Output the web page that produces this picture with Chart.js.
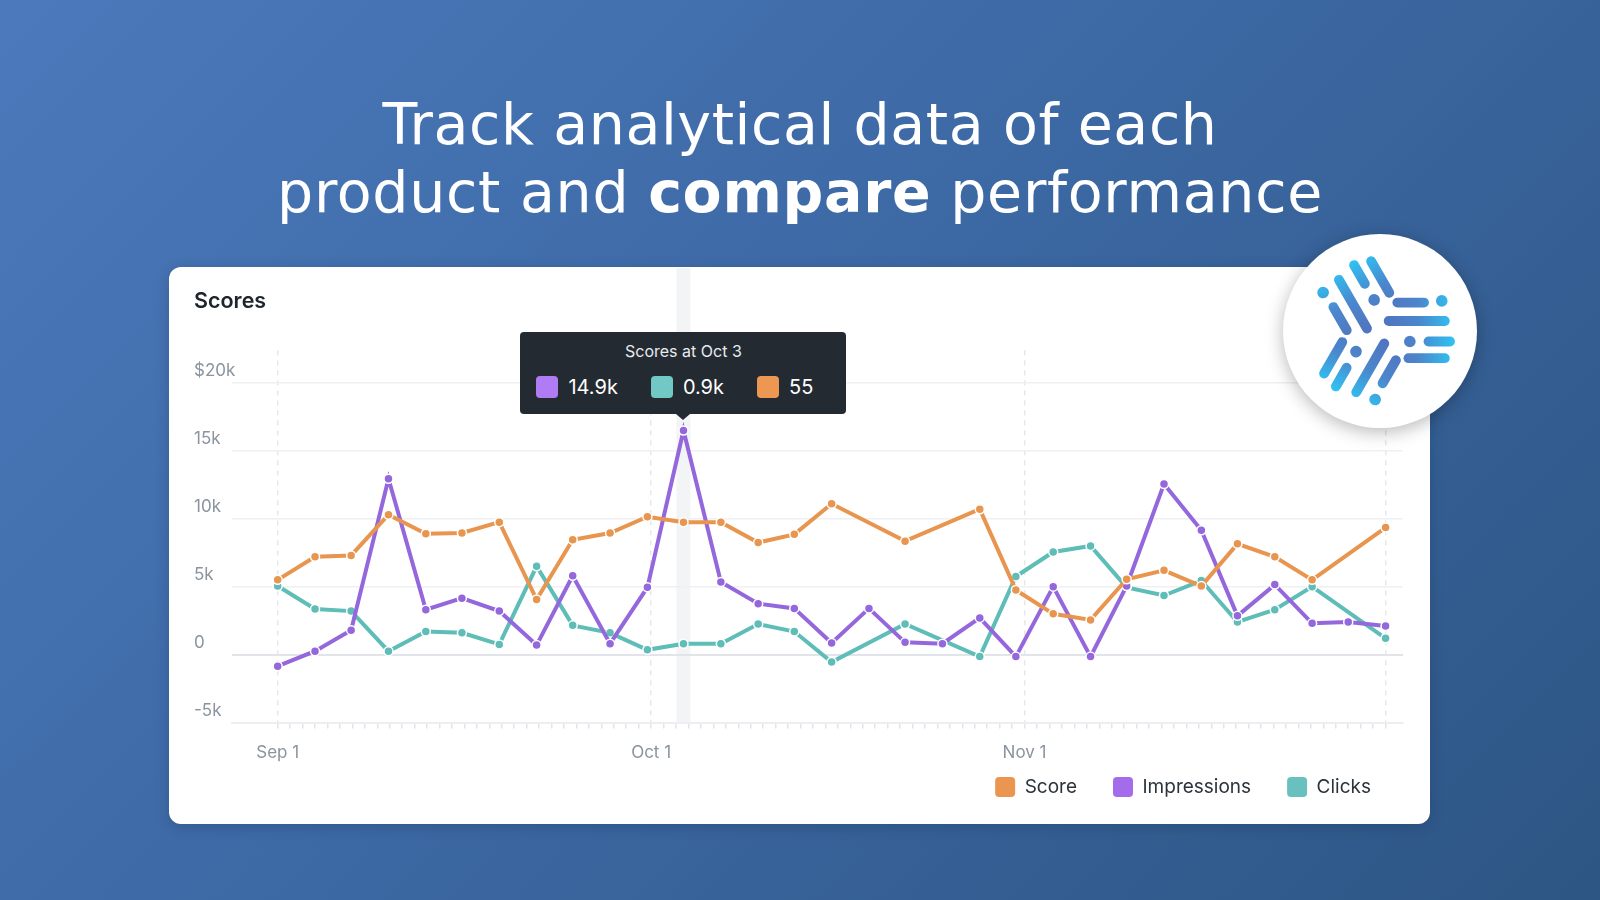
<!DOCTYPE html>
<html>
<head>
<meta charset="utf-8">
<script src="https://cdn.jsdelivr.net/npm/chart.js@4.4.1/dist/chart.umd.min.js"></script>
<style>
html,body{margin:0;padding:0;width:1600px;height:900px;overflow:hidden;}
body{position:relative;background:linear-gradient(135deg,#4b79bb 0%,#3d69a5 45%,#2d5684 100%);font-family:Inter,sans-serif;}
.headline{position:absolute;left:0;width:1600px;text-align:center;color:#fff;font-family:'DejaVu Sans',sans-serif;font-size:57px;font-weight:400;white-space:nowrap;line-height:66px;}
.headline span{display:inline-block;}
.headline b{font-weight:700;}
#card{position:absolute;left:169px;top:267px;width:1261px;height:557px;background:#fff;border-radius:12px;box-shadow:0 3px 14px rgba(10,30,60,.22);}
#chart{position:absolute;left:0;top:0;}
#logo{position:absolute;left:1283px;top:234px;width:194px;height:194px;border-radius:50%;background:#fff;box-shadow:0 4px 18px rgba(0,0,0,.28);}
#logo svg{position:absolute;left:0;top:0;}
#tt{position:absolute;display:none;background:#232a32;border-radius:4px;color:#fff;font-family:Inter,sans-serif;white-space:nowrap;pointer-events:none;}
#tt:after{content:'';position:absolute;left:50%;bottom:-6px;margin-left:-7px;border-left:7px solid transparent;border-right:7px solid transparent;border-top:6px solid #232a32;}
.tt-title{font-size:16px;text-align:center;padding-top:10px;height:19px;line-height:19px;color:#e9ebee;}
.tt-row{display:flex;align-items:center;padding:15px 0 16px 16px;}
.tt-item{display:flex;align-items:center;margin-right:33px;font-size:20px;line-height:22px;}
.tt-sw{display:inline-block;width:22px;height:22px;border-radius:4px;margin-right:10px;}
</style>
</head>
<body>
<div class="headline" id="h1" style="top:91px"><span>Track analytical data of each</span></div>
<div class="headline" id="h2" style="top:159px"><span>product and <b>compare</b> performance</span></div>
<div id="card">
  <canvas id="chart" width="1261" height="557"></canvas>
  <div id="tt"></div>
</div>
<div id="logo">
<svg width="194" height="194" viewBox="-97 -97 194 194">
  <defs>
    <linearGradient id="lg" gradientUnits="userSpaceOnUse" x1="0" y1="0" x2="74" y2="0">
      <stop offset="0" stop-color="#5271bd"/>
      <stop offset="0.5" stop-color="#4b86cc"/>
      <stop offset="1" stop-color="#2ec7f5"/>
    </linearGradient>
  </defs>
  <g transform="scale(1.04)">
  <g id="arm">
    <g stroke="url(#lg)" stroke-linecap="round" stroke-width="9.5" fill="none">
      <line x1="16.7" y1="-27.3" x2="42.3" y2="-27.3"/>
      <line x1="8.4" y1="-9.6" x2="62.3" y2="-9.6"/>
      <line x1="46.7" y1="10.1" x2="67.3" y2="10.1"/>
      <line x1="27.4" y1="26.1" x2="62.3" y2="26.1"/>
    </g>
    <g fill="url(#lg)">
      <circle cx="59.4" cy="-28.9" r="5.6"/>
      <circle cx="28.7" cy="10.1" r="5.6"/>
    </g>
  </g>
  <use href="#arm" transform="rotate(120)"/>
  <use href="#arm" transform="rotate(240)"/>
  </g>
</svg>
</div>
<script>
// ---- data ----
const dayOffsets = [0, 3.0, 5.9, 8.9, 11.9, 14.8, 17.8, 20.8, 23.7, 26.7, 29.7, 32.6, 35.6, 38.6, 41.5, 44.5, 47.5, 50.4, 53.4, 56.4, 59.3, 62.3, 65.3, 68.2, 71.2, 74.2, 77.1, 80.1, 83.1, 86.0, 89.0];
const scoreValues = [5.5, 7.2, 7.3, 10.3, 8.9, 8.95, 9.75, 4.05, 8.45, 8.95, 10.15, 9.75, 9.75, 8.25, 8.85, 11.1, null, 8.35, null, 10.7, 4.75, 3.0, 2.55, 5.55, 6.2, 5.05, 8.15, 7.2, 5.5, null, 9.35];
const impressionValues = [-0.85, 0.25, 1.8, 12.95, 3.3, 4.15, 3.2, 0.7, 5.8, 0.8, 4.95, 16.5, 5.35, 3.75, 3.4, 0.85, 3.4, 0.9, 0.8, 2.7, -0.15, 5.0, -0.15, 5.05, 12.55, 9.15, 2.85, 5.15, 2.3, 2.4, 2.1];
const clickValues = [5.05, 3.35, 3.2, 0.25, 1.7, 1.6, 0.75, 6.5, 2.15, 1.6, 0.35, 0.8, 0.8, 2.25, 1.7, -0.55, null, 2.25, null, -0.15, 5.75, 7.55, 8.0, 4.95, 4.35, 5.45, 2.4, 3.3, 5.0, null, 1.2];
const seriesLabels = ['Score', 'Impressions', 'Clicks'];
const yTickValues = [-5, 0, 5, 10, 15, 20];
const yTickLabels = ['-5k', '0', '5k', '10k', '15k', '$20k'];
const xTickDays = [0, 30, 60];
const xTickLabels = ['Sep 1', 'Oct 1', 'Nov 1'];
const lastDay = 89;
const hoverIndex = 11;
const hoverDate = 'Oct 3';
const tooltipValues = ['55', '14.9k', '0.9k'];
const tooltipOrder = [1, 2, 0];

// ---- styles ----
const lineColors = ['#e8964f', '#9467dc', '#5fbdb8'];
const legendColors = ['#ea9651', '#a46bea', '#68c1be'];
const swatchColors = ['#ec9852', '#b07cf5', '#72c8c4'];

function fitHeadline(id, target) {
  const span = document.querySelector('#' + id + ' span');
  span.style.letterSpacing = '0px';
  const w = span.getBoundingClientRect().width;
  const n = span.textContent.length;
  span.style.letterSpacing = ((target - w) / n) + 'px';
}

function externalTooltip(context) {
  const tooltip = context.tooltip;
  const el = document.getElementById('tt');
  if (tooltip.opacity === 0) { el.style.display = 'none'; return; }
  el.innerHTML = '';
  const title = document.createElement('div');
  title.className = 'tt-title';
  title.textContent = (tooltip.title || []).join(' ');
  el.appendChild(title);
  const row = document.createElement('div');
  row.className = 'tt-row';
  (tooltip.body || []).forEach((b, i) => {
    const item = document.createElement('span');
    item.className = 'tt-item';
    const sw = document.createElement('span');
    sw.className = 'tt-sw';
    sw.style.background = tooltip.labelColors[i].backgroundColor;
    const tx = document.createElement('span');
    tx.textContent = b.lines.join(' ');
    item.appendChild(sw);
    item.appendChild(tx);
    row.appendChild(item);
  });
  el.appendChild(row);
  el.style.display = 'block';
  el.style.left = (tooltip.caretX - el.offsetWidth / 2) + 'px';
  el.style.top = (tooltip.caretY - el.offsetHeight - 16) + 'px';
}

Chart.Tooltip.positioners.onPeak = function (items) {
  if (!items.length) return false;
  const it = items.find(i => i.datasetIndex === 1) || items[0];
  return { x: it.element.x, y: it.element.y };
};

const hoverBand = {
  id: 'hoverBand',
  beforeDraw(chart) {
    const act = chart.tooltip ? chart.tooltip.getActiveElements() : [];
    if (!act || !act.length) return;
    const x = act[0].element.x;
    const ctx = chart.ctx;
    ctx.save();
    ctx.fillStyle = '#f3f4f6';
    ctx.fillRect(x - 7, 1, 14, chart.chartArea.bottom - 1);
    ctx.restore();
  }
};

const legendShift = {
  id: 'legendShift',
  afterLayout(chart) {
    if (chart.legend) { chart.legend.left += 4; chart.legend.right += 4; }
  }
};

function init() {
  fitHeadline('h1', 835);
  fitHeadline('h2', 1046);

  const seriesValues = [scoreValues, impressionValues, clickValues];
  const datasets = seriesValues.map((vals, i) => ({
    label: seriesLabels[i],
    data: vals.map((v, j) => ({ x: dayOffsets[j], y: v })),
    borderColor: lineColors[i],
    backgroundColor: lineColors[i],
    pointBackgroundColor: lineColors[i],
    pointBorderColor: '#ffffff',
    pointBorderWidth: 1.5,
    pointRadius: 4.5,
    pointHoverRadius: 4.5,
    pointHoverBorderWidth: 1.5,
    borderWidth: 4,
    tension: 0,
    spanGaps: true
  }));

  const chart = new Chart(document.getElementById('chart'), {
    type: 'line',
    data: { datasets },
    plugins: [hoverBand, legendShift],
    options: {
      responsive: false,
      animation: false,
      layout: { padding: { left: 25, right: 27, top: 0, bottom: 17 } },
      interaction: { mode: 'index', intersect: false },
      scales: {
        x: {
          type: 'linear',
          min: -3.67,
          max: 90.4,
          afterBuildTicks: (s) => {
            const t = [];
            for (let d = 0; d <= lastDay; d++) t.push({ value: d, major: xTickDays.includes(d) || d === lastDay });
            s.ticks = t;
          },
          afterFit: (s) => { s.height = 18.5; },
          ticks: {
            autoSkip: false,
            maxRotation: 0,
            mirror: true,
            padding: -41,
            color: '#8a939e',
            font: { size: 17, family: 'Inter, sans-serif' },
            callback: (v) => { const k = xTickDays.indexOf(v); return k >= 0 ? xTickLabels[k] : ''; }
          },
          grid: {
            color: (c) => (c.tick && c.tick.major) ? '#e4e7eb' : 'rgba(0,0,0,0)',
            lineWidth: 1.5,
            drawTicks: true,
            tickLength: 6,
            tickWidth: 1.5,
            tickColor: '#e1e4e8'
          },
          border: { display: true, color: '#eceef1', width: 2, dash: [5, 5] }
        },
        y: {
          min: -5,
          max: 22.4,
          afterBuildTicks: (s) => { s.ticks = yTickValues.map(v => ({ value: v })); },
          afterFit: (s) => { s.width = 38; },
          ticks: {
            mirror: true,
            crossAlign: 'near',
            labelOffset: -12,
            padding: -38,
            color: '#8a939e',
            font: { size: 17, family: 'Inter, sans-serif' },
            callback: (v) => { const k = yTickValues.indexOf(v); return k >= 0 ? yTickLabels[k] : ''; }
          },
          grid: {
            color: (c) => (c.tick && c.tick.value === 0) ? '#e1e4e8' : '#eef0f3',
            lineWidth: (c) => (c.tick && c.tick.value === 0) ? 2 : 1.5,
            drawTicks: false
          },
          border: { display: false }
        }
      },
      plugins: {
        title: {
          display: true,
          text: 'Scores',
          align: 'start',
          color: '#1e252c',
          font: { size: 21.5, weight: '600', family: 'Inter, sans-serif' },
          padding: { top: 22, bottom: 35.5 }
        },
        legend: {
          position: 'bottom',
          align: 'end',
          labels: {
            boxWidth: 20,
            boxHeight: 20,
            useBorderRadius: true,
            borderRadius: 4,
            padding: 36,
            color: '#2b333b',
            font: { size: 19, family: 'Inter, sans-serif' },
            generateLabels: (ch) => Chart.defaults.plugins.legend.labels.generateLabels(ch).map(it => Object.assign({}, it, {
              fillStyle: legendColors[it.datasetIndex],
              strokeStyle: legendColors[it.datasetIndex],
              lineWidth: 0,
              borderRadius: 4
            }))
          }
        },
        tooltip: {
          enabled: false,
          external: externalTooltip,
          mode: 'index',
          intersect: false,
          position: 'onPeak',
          itemSort: (a, b) => tooltipOrder.indexOf(a.datasetIndex) - tooltipOrder.indexOf(b.datasetIndex),
          callbacks: {
            title: () => 'Scores at ' + hoverDate,
            label: (c) => tooltipValues[c.datasetIndex],
            labelColor: (c) => ({ backgroundColor: swatchColors[c.datasetIndex], borderColor: swatchColors[c.datasetIndex] })
          }
        }
      }
    }
  });

  const active = [0, 1, 2].map(d => ({ datasetIndex: d, index: hoverIndex }));
  chart.tooltip.setActiveElements(active, { x: 0, y: 0 });
  chart.draw();
}

if (document.fonts && document.fonts.load) {
  Promise.all([
    document.fonts.load('18px Inter'),
    document.fonts.load('600 21px Inter'),
    document.fonts.load('57px "DejaVu Sans"'),
    document.fonts.load('700 57px "DejaVu Sans"')
  ]).then(init, init);
} else {
  init();
}
</script>
</body>
</html>
